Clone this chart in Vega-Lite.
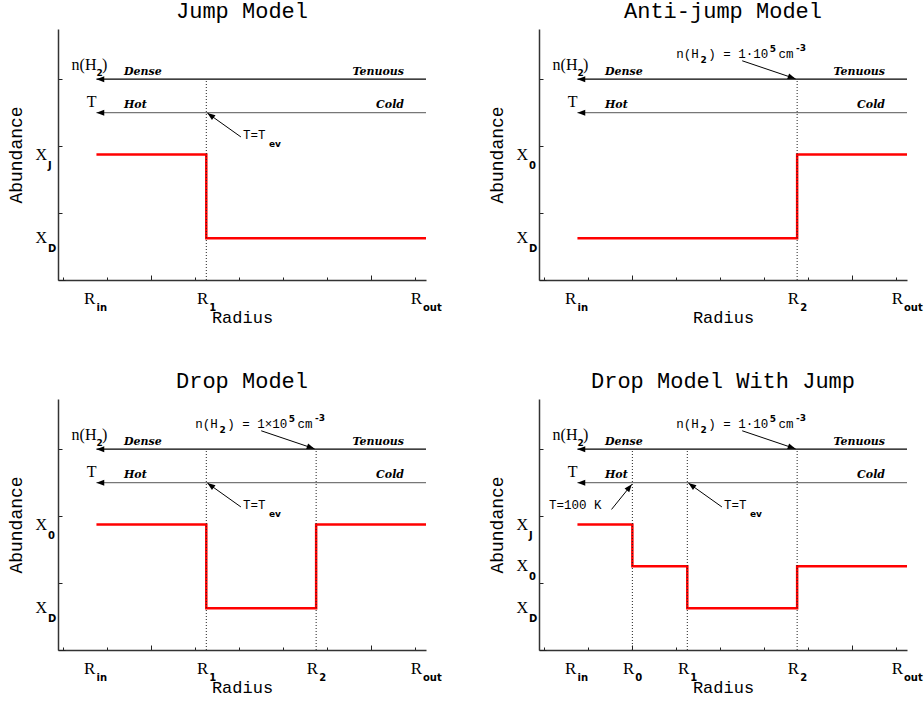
{
"$schema": "https://vega.github.io/schema/vega-lite/v6.json",
"padding": {"left": 7, "top": 0, "right": 20, "bottom": 30},
"background": "white",
"data": {"values": [
{"p":"Jump Model","k":"step","o":1,"x":1,"y":3},{"p":"Jump Model","k":"step","o":2,"x":3,"y":3},{"p":"Jump Model","k":"step","o":3,"x":3,"y":1},{"p":"Jump Model","k":"step","o":4,"x":7,"y":1},
{"p":"Anti-jump Model","k":"step","o":1,"x":1,"y":1},{"p":"Anti-jump Model","k":"step","o":2,"x":5,"y":1},{"p":"Anti-jump Model","k":"step","o":3,"x":5,"y":3},{"p":"Anti-jump Model","k":"step","o":4,"x":7,"y":3},
{"p":"Drop Model","k":"step","o":1,"x":1,"y":3},{"p":"Drop Model","k":"step","o":2,"x":3,"y":3},{"p":"Drop Model","k":"step","o":3,"x":3,"y":1},{"p":"Drop Model","k":"step","o":4,"x":5,"y":1},{"p":"Drop Model","k":"step","o":5,"x":5,"y":3},{"p":"Drop Model","k":"step","o":6,"x":7,"y":3},
{"p":"Drop Model With Jump","k":"step","o":1,"x":1,"y":3},{"p":"Drop Model With Jump","k":"step","o":2,"x":2,"y":3},{"p":"Drop Model With Jump","k":"step","o":3,"x":2,"y":2},{"p":"Drop Model With Jump","k":"step","o":4,"x":3,"y":2},{"p":"Drop Model With Jump","k":"step","o":5,"x":3,"y":1},{"p":"Drop Model With Jump","k":"step","o":6,"x":5,"y":1},{"p":"Drop Model With Jump","k":"step","o":7,"x":5,"y":2},{"p":"Drop Model With Jump","k":"step","o":8,"x":7,"y":2},

{"p":"Jump Model","k":"v","x":3,"y":0,"y2":4.8},
{"p":"Anti-jump Model","k":"v","x":5,"y":0,"y2":4.8},
{"p":"Drop Model","k":"v","x":3,"y":0,"y2":4.8},{"p":"Drop Model","k":"v","x":5,"y":0,"y2":4.8},
{"p":"Drop Model With Jump","k":"v","x":2,"y":0,"y2":4.8},{"p":"Drop Model With Jump","k":"v","x":3,"y":0,"y2":4.8},{"p":"Drop Model With Jump","k":"v","x":5,"y":0,"y2":4.8},

{"p":"Jump Model","k":"arr","q":"density","x":1,"x2":7,"y":4.8},{"p":"Jump Model","k":"arr","q":"temperature","x":1,"x2":7,"y":4},
{"p":"Anti-jump Model","k":"arr","q":"density","x":1,"x2":7,"y":4.8},{"p":"Anti-jump Model","k":"arr","q":"temperature","x":1,"x2":7,"y":4},
{"p":"Drop Model","k":"arr","q":"density","x":1,"x2":7,"y":4.8},{"p":"Drop Model","k":"arr","q":"temperature","x":1,"x2":7,"y":4},
{"p":"Drop Model With Jump","k":"arr","q":"density","x":1,"x2":7,"y":4.8},{"p":"Drop Model With Jump","k":"arr","q":"temperature","x":1,"x2":7,"y":4},

{"p":"Jump Model","k":"tagL","t":"Dense","x":1.5,"y":4.98},{"p":"Jump Model","k":"tagR","t":"Tenuous","x":6.6,"y":4.98},{"p":"Jump Model","k":"tagL","t":"Hot","x":1.5,"y":4.18},{"p":"Jump Model","k":"tagR","t":"Cold","x":6.6,"y":4.18},
{"p":"Anti-jump Model","k":"tagL","t":"Dense","x":1.5,"y":4.98},{"p":"Anti-jump Model","k":"tagR","t":"Tenuous","x":6.6,"y":4.98},{"p":"Anti-jump Model","k":"tagL","t":"Hot","x":1.5,"y":4.18},{"p":"Anti-jump Model","k":"tagR","t":"Cold","x":6.6,"y":4.18},
{"p":"Drop Model","k":"tagL","t":"Dense","x":1.5,"y":4.98},{"p":"Drop Model","k":"tagR","t":"Tenuous","x":6.6,"y":4.98},{"p":"Drop Model","k":"tagL","t":"Hot","x":1.5,"y":4.18},{"p":"Drop Model","k":"tagR","t":"Cold","x":6.6,"y":4.18},
{"p":"Drop Model With Jump","k":"tagL","t":"Dense","x":1.5,"y":4.98},{"p":"Drop Model With Jump","k":"tagR","t":"Tenuous","x":6.6,"y":4.98},{"p":"Drop Model With Jump","k":"tagL","t":"Hot","x":1.5,"y":4.18},{"p":"Drop Model With Jump","k":"tagR","t":"Cold","x":6.6,"y":4.18},

{"p":"Jump Model","k":"sR","t":"n(H","x":1,"y":5.14},{"p":"Jump Model","k":"sm","t":"2","x":1,"y":4.94},{"p":"Jump Model","k":"sL","t":")","x":1.1,"y":5.14},{"p":"Jump Model","k":"sR","t":"T","x":1,"y":4.26},
{"p":"Anti-jump Model","k":"sR","t":"n(H","x":1,"y":5.14},{"p":"Anti-jump Model","k":"sm","t":"2","x":1,"y":4.94},{"p":"Anti-jump Model","k":"sL","t":")","x":1.1,"y":5.14},{"p":"Anti-jump Model","k":"sR","t":"T","x":1,"y":4.26},
{"p":"Drop Model","k":"sR","t":"n(H","x":1,"y":5.14},{"p":"Drop Model","k":"sm","t":"2","x":1,"y":4.94},{"p":"Drop Model","k":"sL","t":")","x":1.1,"y":5.14},{"p":"Drop Model","k":"sR","t":"T","x":1,"y":4.26},
{"p":"Drop Model With Jump","k":"sR","t":"n(H","x":1,"y":5.14},{"p":"Drop Model With Jump","k":"sm","t":"2","x":1,"y":4.94},{"p":"Drop Model With Jump","k":"sL","t":")","x":1.1,"y":5.14},{"p":"Drop Model With Jump","k":"sR","t":"T","x":1,"y":4.26},

{"p":"Jump Model","k":"xl","x":1,"t":"R","s":"in"},{"p":"Jump Model","k":"xl","x":3,"t":"R","s":"1"},{"p":"Jump Model","k":"xl","x":7,"t":"R","s":"out"},
{"p":"Anti-jump Model","k":"xl","x":1,"t":"R","s":"in"},{"p":"Anti-jump Model","k":"xl","x":5,"t":"R","s":"2"},{"p":"Anti-jump Model","k":"xl","x":7,"t":"R","s":"out"},
{"p":"Drop Model","k":"xl","x":1,"t":"R","s":"in"},{"p":"Drop Model","k":"xl","x":3,"t":"R","s":"1"},{"p":"Drop Model","k":"xl","x":5,"t":"R","s":"2"},{"p":"Drop Model","k":"xl","x":7,"t":"R","s":"out"},
{"p":"Drop Model With Jump","k":"xl","x":1,"t":"R","s":"in"},{"p":"Drop Model With Jump","k":"xl","x":2,"t":"R","s":"0"},{"p":"Drop Model With Jump","k":"xl","x":3,"t":"R","s":"1"},{"p":"Drop Model With Jump","k":"xl","x":5,"t":"R","s":"2"},{"p":"Drop Model With Jump","k":"xl","x":7,"t":"R","s":"out"},

{"p":"Jump Model","k":"yl","y":3,"t":"X","s":"J"},{"p":"Jump Model","k":"yl","y":1,"t":"X","s":"D"},
{"p":"Anti-jump Model","k":"yl","y":3,"t":"X","s":"0"},{"p":"Anti-jump Model","k":"yl","y":1,"t":"X","s":"D"},
{"p":"Drop Model","k":"yl","y":3,"t":"X","s":"0"},{"p":"Drop Model","k":"yl","y":1,"t":"X","s":"D"},
{"p":"Drop Model With Jump","k":"yl","y":3,"t":"X","s":"J"},{"p":"Drop Model With Jump","k":"yl","y":2,"t":"X","s":"0"},{"p":"Drop Model With Jump","k":"yl","y":1,"t":"X","s":"D"},

{"p":"Jump Model","k":"ptr","x":3.63,"y":3.42,"x2":3.02,"y2":3.99,"a":306},
{"p":"Anti-jump Model","k":"ptr","x":4.0,"y":5.24,"x2":4.97,"y2":4.81,"a":109},
{"p":"Drop Model","k":"ptr","x":3.63,"y":3.42,"x2":3.02,"y2":3.99,"a":306},{"p":"Drop Model","k":"ptr","x":4.0,"y":5.24,"x2":4.97,"y2":4.81,"a":109},
{"p":"Drop Model With Jump","k":"ptr","x":3.63,"y":3.42,"x2":3.02,"y2":3.99,"a":306},{"p":"Drop Model With Jump","k":"ptr","x":4.0,"y":5.24,"x2":4.97,"y2":4.81,"a":109},{"p":"Drop Model With Jump","k":"ptr","x":1.62,"y":3.36,"x2":1.99,"y2":3.96,"a":39},

{"p":"Jump Model","k":"m","t":"T=T","x":3.67,"y":3.46},{"p":"Jump Model","k":"sm","t":"ev","x":4.14,"y":3.25},
{"p":"Anti-jump Model","k":"m","t":"n(H","x":2.8,"y":5.41},{"p":"Anti-jump Model","k":"sm","t":"2","x":3.24,"y":5.25},{"p":"Anti-jump Model","k":"m","t":") = 1·10","x":3.38,"y":5.41},{"p":"Anti-jump Model","k":"sm","t":"5","x":4.5,"y":5.53},{"p":"Anti-jump Model","k":"m","t":"cm","x":4.66,"y":5.41},{"p":"Anti-jump Model","k":"sm","t":"-3","x":4.98,"y":5.55},
{"p":"Drop Model","k":"m","t":"T=T","x":3.67,"y":3.46},{"p":"Drop Model","k":"sm","t":"ev","x":4.14,"y":3.25},
{"p":"Drop Model","k":"m","t":"n(H","x":2.8,"y":5.41},{"p":"Drop Model","k":"sm","t":"2","x":3.24,"y":5.25},{"p":"Drop Model","k":"m","t":") = 1×10","x":3.38,"y":5.41},{"p":"Drop Model","k":"sm","t":"5","x":4.5,"y":5.53},{"p":"Drop Model","k":"m","t":"cm","x":4.66,"y":5.41},{"p":"Drop Model","k":"sm","t":"-3","x":4.98,"y":5.55},
{"p":"Drop Model With Jump","k":"m","t":"T=T","x":3.67,"y":3.46},{"p":"Drop Model With Jump","k":"sm","t":"ev","x":4.14,"y":3.25},
{"p":"Drop Model With Jump","k":"m","t":"n(H","x":2.8,"y":5.41},{"p":"Drop Model With Jump","k":"sm","t":"2","x":3.24,"y":5.25},{"p":"Drop Model With Jump","k":"m","t":") = 1·10","x":3.38,"y":5.41},{"p":"Drop Model With Jump","k":"sm","t":"5","x":4.5,"y":5.53},{"p":"Drop Model With Jump","k":"m","t":"cm","x":4.66,"y":5.41},{"p":"Drop Model With Jump","k":"sm","t":"-3","x":4.98,"y":5.55},
{"p":"Drop Model With Jump","k":"m","t":"T=100 K","x":0.48,"y":3.46}
]},
"facet": {"field": "p", "type": "nominal", "sort": ["Jump Model", "Anti-jump Model", "Drop Model", "Drop Model With Jump"],
  "header": {"title": null, "labelFont": "Liberation Mono", "labelFontSize": 22, "labelColor": "black", "labelPadding": 6}},
"columns": 2,
"spacing": {"row": 119, "column": 113},
"bounds": "flush",
"resolve": {"axis": {"x": "independent", "y": "independent"}},
"spec": {
  "width": 368,
  "height": 251,
  "layer": [
    {"transform": [{"filter": "datum.k === 'step'"}],
     "mark": {"type": "line", "color": "#ff0000", "strokeWidth": 2.5},
     "encoding": {
       "x": {"field": "x", "type": "quantitative", "scale": {"domain": [0.3, 7], "nice": false, "zero": false},
         "axis": {"title": "Radius", "labels": false, "grid": false,
           "values": [0.4,0.6,0.8,1,1.2,1.4,1.6,1.8,2,2.2,2.4,2.6,2.8,3,3.2,3.4,3.6,3.8,4,4.2,4.4,4.6,4.8,5,5.2,5.4,5.6,5.8,6,6.2,6.4,6.6,6.8,7],
           "tickSize": {"condition": {"test": "abs(datum.value - round(datum.value)) < 0.01", "value": -5}, "value": -3},
           "tickColor": "#222", "tickWidth": 1, "domainColor": "#333", "domainWidth": 1.5,
           "titleFont": "Liberation Mono", "titleFontSize": 17, "titleFontWeight": "normal", "titleColor": "black", "titlePadding": 29}},
       "y": {"field": "y", "type": "quantitative", "scale": {"domain": [0, 6], "nice": false, "zero": false},
         "axis": {"title": "Abundance", "labels": false, "grid": false,
           "values": [0,0.2,0.4,0.6,0.8,1,1.2,1.4,1.6,1.8,2,2.2,2.4,2.6,2.8,3,3.2,3.4,3.6,3.8,4,4.2,4.4,4.6,4.8,5,5.2,5.4,5.6,5.8,6],
           "tickSize": {"condition": {"test": "abs(datum.value - round(datum.value)) < 0.01", "value": -7}, "value": -4},
           "tickColor": "#222", "tickWidth": 1, "domainColor": "#333", "domainWidth": 1.5,
           "titleFont": "Liberation Mono", "titleFontSize": 18, "titleFontWeight": "normal", "titleColor": "black", "titlePadding": 32}},
       "order": {"field": "o", "type": "quantitative"}}},
    {"transform": [{"filter": "datum.k === 'v'"}],
     "mark": {"type": "rule", "strokeDash": [1, 2], "color": "#222", "strokeWidth": 1},
     "encoding": {"x": {"field": "x", "type": "quantitative"}, "y": {"field": "y", "type": "quantitative"}, "y2": {"field": "y2"}}},
    {"transform": [{"filter": "datum.k === 'arr'"}],
     "mark": {"type": "rule", "strokeWidth": 1.2},
     "encoding": {"x": {"field": "x", "type": "quantitative"}, "x2": {"field": "x2"}, "y": {"field": "y", "type": "quantitative"},
       "color": {"field": "q", "type": "nominal", "scale": {"domain": ["density", "temperature"], "range": ["#000000", "#777777"]}, "legend": null}}},
    {"transform": [{"filter": "datum.k === 'arr'"}],
     "mark": {"type": "point", "shape": "M0,0L-1,2.6L1,2.6Z", "filled": true, "color": "black", "size": 36, "angle": 270, "opacity": 1, "strokeWidth": 0},
     "encoding": {"x": {"field": "x", "type": "quantitative"}, "y": {"field": "y", "type": "quantitative"}}},
    {"transform": [{"filter": "datum.k === 'ptr'"}],
     "mark": {"type": "rule", "strokeWidth": 1, "color": "black"},
     "encoding": {"x": {"field": "x", "type": "quantitative"}, "y": {"field": "y", "type": "quantitative"}, "x2": {"field": "x2"}, "y2": {"field": "y2"}}},
    {"transform": [{"filter": "datum.k === 'ptr'"}],
     "mark": {"type": "point", "shape": "M0,0L-1,2.6L1,2.6Z", "filled": true, "color": "black", "size": 36, "opacity": 1, "strokeWidth": 0},
     "encoding": {"x": {"field": "x2", "type": "quantitative"}, "y": {"field": "y2", "type": "quantitative"}, "angle": {"field": "a", "type": "quantitative", "scale": null}}},
    {"transform": [{"filter": "datum.k === 'tagL'"}],
     "mark": {"type": "text", "align": "left", "baseline": "middle", "font": "DejaVu Serif", "fontStyle": "italic", "fontWeight": "bold", "fontSize": 11, "color": "black"},
     "encoding": {"x": {"field": "x", "type": "quantitative"}, "y": {"field": "y", "type": "quantitative"}, "text": {"field": "t"}}},
    {"transform": [{"filter": "datum.k === 'tagR'"}],
     "mark": {"type": "text", "align": "right", "baseline": "middle", "font": "DejaVu Serif", "fontStyle": "italic", "fontWeight": "bold", "fontSize": 11, "color": "black"},
     "encoding": {"x": {"field": "x", "type": "quantitative"}, "y": {"field": "y", "type": "quantitative"}, "text": {"field": "t"}}},
    {"transform": [{"filter": "datum.k === 'sR'"}],
     "mark": {"type": "text", "align": "right", "baseline": "middle", "font": "Liberation Serif", "fontSize": 16, "color": "black"},
     "encoding": {"x": {"field": "x", "type": "quantitative"}, "y": {"field": "y", "type": "quantitative"}, "text": {"field": "t"}}},
    {"transform": [{"filter": "datum.k === 'sL'"}],
     "mark": {"type": "text", "align": "left", "baseline": "middle", "font": "Liberation Serif", "fontSize": 16, "color": "black"},
     "encoding": {"x": {"field": "x", "type": "quantitative"}, "y": {"field": "y", "type": "quantitative"}, "text": {"field": "t"}}},
    {"transform": [{"filter": "datum.k === 'sm'"}],
     "mark": {"type": "text", "align": "left", "baseline": "middle", "font": "DejaVu Sans", "fontWeight": "bold", "fontSize": 9, "color": "black"},
     "encoding": {"x": {"field": "x", "type": "quantitative"}, "y": {"field": "y", "type": "quantitative"}, "text": {"field": "t"}}},
    {"transform": [{"filter": "datum.k === 'm'"}],
     "mark": {"type": "text", "align": "left", "baseline": "middle", "font": "Liberation Mono", "fontSize": 12.5, "color": "black"},
     "encoding": {"x": {"field": "x", "type": "quantitative"}, "y": {"field": "y", "type": "quantitative"}, "text": {"field": "t"}}},
    {"transform": [{"filter": "datum.k === 'xl'"}],
     "mark": {"type": "text", "align": "right", "baseline": "middle", "dx": {"expr": "2 - 3 * (length(datum.s) - 1)"}, "dy": 19, "font": "Liberation Serif", "fontSize": 17, "color": "black"},
     "encoding": {"x": {"field": "x", "type": "quantitative"}, "y": {"datum": 0, "type": "quantitative"}, "text": {"field": "t"}}},
    {"transform": [{"filter": "datum.k === 'xl'"}],
     "mark": {"type": "text", "align": "left", "baseline": "middle", "dx": {"expr": "3 - 3 * (length(datum.s) - 1)"}, "dy": 28, "font": "DejaVu Sans", "fontWeight": "bold", "fontSize": 10, "color": "black"},
     "encoding": {"x": {"field": "x", "type": "quantitative"}, "y": {"datum": 0, "type": "quantitative"}, "text": {"field": "s"}}},
    {"transform": [{"filter": "datum.k === 'yl'"}],
     "mark": {"type": "text", "align": "right", "baseline": "middle", "dx": -11, "font": "Liberation Serif", "fontSize": 16, "color": "black"},
     "encoding": {"x": {"datum": 0.3, "type": "quantitative"}, "y": {"field": "y", "type": "quantitative"}, "text": {"field": "t"}}},
    {"transform": [{"filter": "datum.k === 'yl'"}],
     "mark": {"type": "text", "align": "left", "baseline": "middle", "dx": -10, "dy": 11, "font": "DejaVu Sans", "fontWeight": "bold", "fontSize": 10, "color": "black"},
     "encoding": {"x": {"datum": 0.3, "type": "quantitative"}, "y": {"field": "y", "type": "quantitative"}, "text": {"field": "s"}}}
  ]
},
"config": {"view": {"stroke": null}}
}
